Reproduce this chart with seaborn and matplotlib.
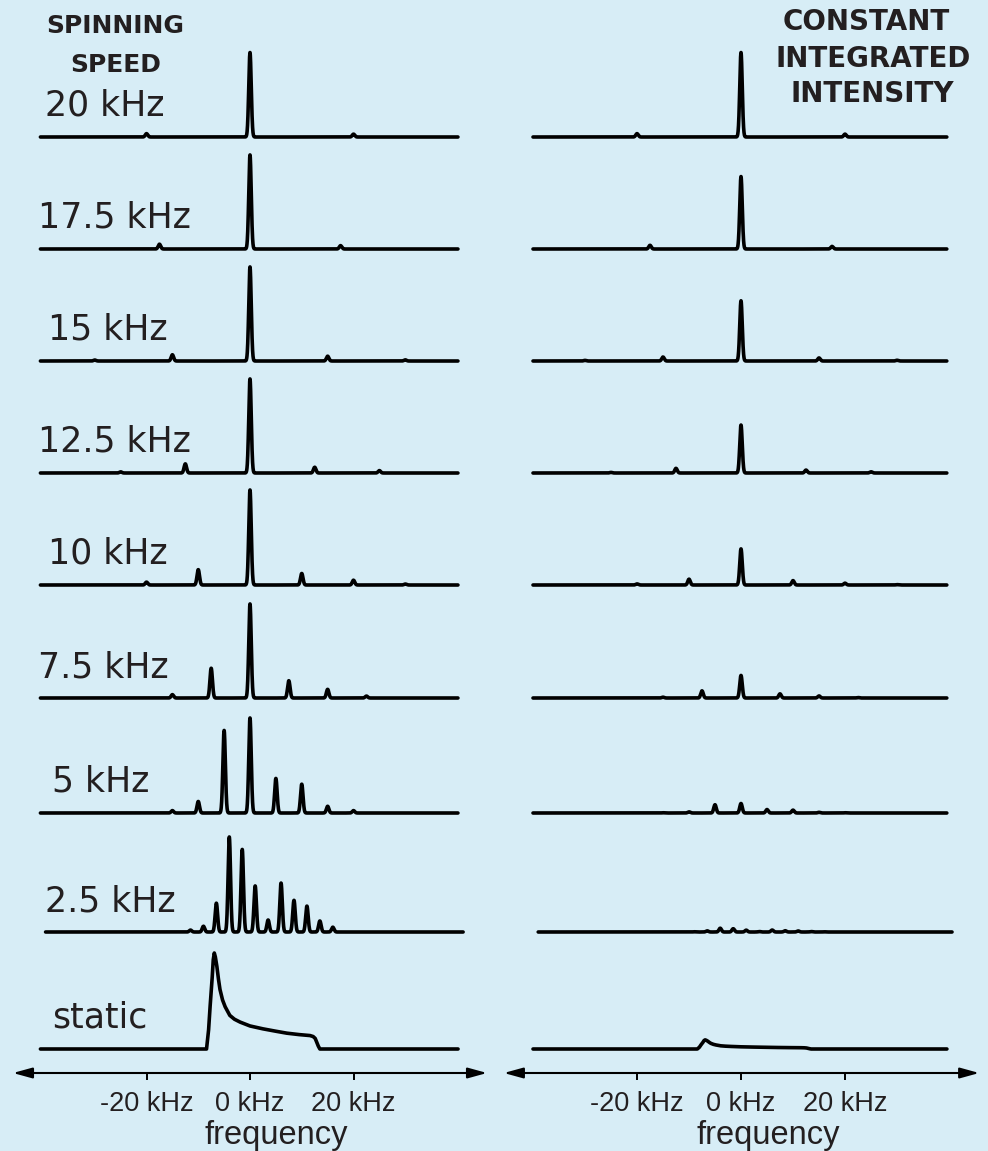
import numpy as np
import pandas as pd
import matplotlib
matplotlib.use("Agg")
import matplotlib.pyplot as plt
import seaborn as sns

# ---------------------------------------------------------------- data
row_labels = ["20 kHz", "17.5 kHz", "15 kHz", "12.5 kHz", "10 kHz",
              "7.5 kHz", "5 kHz", "2.5 kHz", "static"]
spin_rates = [20.0, 17.5, 15.0, 12.5, 10.0, 7.5, 5.0, 2.5]

# sideband orders and peak heights (relative to the tallest line) per rate
orders_20 = [-1, 0, 1]
heights_20 = [0.035, 0.88, 0.03]
orders_175 = [-1, 0, 1]
heights_175 = [0.05, 0.98, 0.035]
orders_15 = [-2, -1, 0, 1, 2]
heights_15 = [0.01, 0.065, 0.98, 0.05, 0.012]
orders_125 = [-2, -1, 0, 1, 2]
heights_125 = [0.012, 0.095, 0.98, 0.06, 0.025]
orders_10 = [-2, -1, 0, 1, 2, 3]
heights_10 = [0.03, 0.16, 0.99, 0.12, 0.05, 0.01]
orders_75 = [-2, -1, 0, 1, 2, 3]
heights_75 = [0.035, 0.31, 0.98, 0.18, 0.09, 0.02]
orders_5 = [-3, -2, -1, 0, 1, 2, 3, 4]
heights_5 = [0.025, 0.12, 0.86, 0.99, 0.36, 0.30, 0.07, 0.025]
orders_25 = [-5, -4, -3, -2, -1, 0, 1, 2, 3, 4, 5, 6]
heights_25 = [0.02, 0.06, 0.30, 0.99, 0.86, 0.48, 0.125, 0.51, 0.33, 0.27, 0.115, 0.05]

sideband_orders = [orders_20, orders_175, orders_15, orders_125, orders_10,
                   orders_75, orders_5, orders_25]
sideband_heights = [heights_20, heights_175, heights_15, heights_125, heights_10,
                    heights_75, heights_5, heights_25]

# static powder pattern (frequency in kHz, relative height)
static_freq = [-40.5, -8.4, -8.0, -7.7, -7.3, -7.1, -6.9, -6.7, -6.4, -6.1,
               -5.8, -5.3, -4.8, -3.9, -3.0, -1.9, 0.0, 2.5, 5.0, 7.1,
               9.5, 11.6, 12.2, 12.6, 12.9, 13.2, 13.5, 40.5]
static_height = [0.0, 0.0, 0.2, 0.45, 0.75, 0.93, 1.0, 0.96, 0.86, 0.73,
                 0.62, 0.51, 0.44, 0.35, 0.31, 0.28, 0.24, 0.21, 0.185, 0.165,
                 0.15, 0.14, 0.13, 0.11, 0.07, 0.03, 0.0, 0.0]

# intensity scale that keeps the integrated intensity constant (right column)
constant_area_scale = [1.0, 0.77, 0.64, 0.51, 0.38, 0.24, 0.10, 0.04, 0.095]

tick_values = [-20, 0, 20]
tick_labels = ["-20 kHz", "0 kHz", "20 kHz"]

# ---------------------------------------------------------------- layout
W, H = 988, 1151
bg = "#d7edf6"
ink = "#231f20"
baseline_px = [137, 249, 361, 473, 585, 698, 813, 932, 1049]
label_x_px = [45, 38, 48, 38, 48, 38, 52, 45, 52]
row_shift = [0, 0, 0, 0, 0, 0, 0, 1.0, 0]      # kHz offset of a trace
unit_px = 96                                    # pixels per unit height
line_sigma = 0.24                               # kHz, gaussian line width
axis_y = 1073

sns.set_style("white")
plt.rcParams["font.family"] = ["DejaVu Sans"]

fig = plt.figure(figsize=(W / 100, H / 100), dpi=100, facecolor=bg)

panels = [
    dict(left=0, width=494, centre=250, scale=5.175, arrow=(-45.8, 45.8), lab=0.559,
         extent=(-40.5, 40.2)),
    dict(left=494, width=494, centre=741, scale=5.2, arrow=(-45.6, 45.8), lab=0.555,
         extent=(-40.0, 39.6)),
]


def spinning_trace(i, freq, scale):
    y = np.zeros_like(freq)
    for o, h in zip(sideband_orders[i], sideband_heights[i]):
        pos = o * spin_rates[i] + row_shift[i]
        y += h * np.exp(-0.5 * ((freq - pos) / line_sigma) ** 2)
    return baseline_px[i] - y * scale * unit_px


for p_idx, p in enumerate(panels):
    ax = fig.add_axes([p["left"] / W, 0, p["width"] / W, 1])
    ax.set_facecolor("none")
    x0 = (p["left"] - p["centre"]) / p["scale"]
    x1 = (p["left"] + p["width"] - p["centre"]) / p["scale"]

    frames = []
    for i in range(len(spin_rates)):
        freq = np.arange(p["extent"][0], p["extent"][1], 0.02)
        sc = 1.0 if p_idx == 0 else constant_area_scale[i]
        frames.append(pd.DataFrame({"freq": freq + row_shift[i],
                                    "y": spinning_trace(i, freq + row_shift[i], sc),
                                    "row": row_labels[i]}))
    sc = 1.0 if p_idx == 0 else constant_area_scale[-1]
    sf = np.clip(np.array(static_freq), p["extent"][0], p["extent"][1])
    frames.append(pd.DataFrame({"freq": sf,
                                "y": baseline_px[-1] - np.array(static_height) * sc * unit_px,
                                "row": "static"}))
    df = pd.concat(frames, ignore_index=True)

    sns.lineplot(data=df, x="freq", y="y", units="row", estimator=None,
                 color="black", linewidth=2.6, ax=ax, legend=False)

    ax.set_xlim(x0, x1)
    ax.set_ylim(H, 0)
    for s in ax.spines.values():
        s.set_visible(False)
    ax.spines["bottom"].set_position(("data", axis_y))
    ax.set_yticks([])
    ax.set_ylabel("")
    ax.set_xticks(tick_values)
    ax.set_xticklabels(tick_labels, fontsize=19.5, family="Liberation Sans", color=ink)
    ax.tick_params(axis="x", direction="out", length=5, width=1.4, pad=8,
                   color="black", bottom=True)
    ax.set_xlabel("frequency", fontsize=23.5, family="Liberation Sans", color=ink)
    ax.xaxis.set_label_coords(p["lab"], (H - 1120) / H)

    ax.annotate("", xy=(p["arrow"][1], axis_y), xytext=(p["arrow"][0], axis_y),
                xycoords="data",
                arrowprops=dict(arrowstyle="<|-|>,head_length=0.58,head_width=0.16",
                                mutation_scale=20, lw=1.5, color="black",
                                shrinkA=0, shrinkB=0))

# row labels
for lab, xp, bp in zip(row_labels, label_x_px, baseline_px):
    fig.text(xp / W, 1 - (bp - 21) / H, lab, fontsize=25, color=ink,
             ha="left", va="baseline", family="DejaVu Sans")

# column titles
titles = [("SPINNING", 115, 33, 18), ("SPEED", 116, 72, 18),
          ("CONSTANT", 866, 30, 20), ("INTEGRATED", 873, 67, 20),
          ("INTENSITY", 872, 102, 20)]
for s, xp, yp, fs in titles:
    fig.text(xp / W, 1 - yp / H, s, fontsize=fs, fontweight="bold", color=ink,
             ha="center", va="baseline", family="DejaVu Sans")

fig.savefig("out.png", dpi=100, facecolor=bg)
